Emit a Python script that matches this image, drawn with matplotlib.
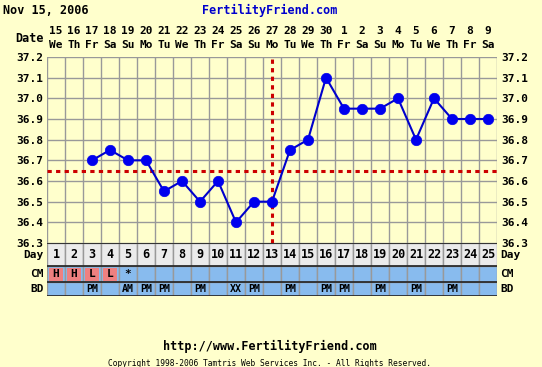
import matplotlib
matplotlib.use("Agg")
import matplotlib.pyplot as plt
import numpy as np

# ---- data ----
days = list(range(1, 26))
dates = ["15", "16", "17", "18", "19", "20", "21", "22", "23", "24", "25", "26", "27",
         "28", "29", "30", "1", "2", "3", "4", "5", "6", "7", "8", "9"]
weekdays = ["We", "Th", "Fr", "Sa", "Su", "Mo", "Tu", "We", "Th", "Fr", "Sa", "Su", "Mo",
            "Tu", "We", "Th", "Fr", "Sa", "Su", "Mo", "Tu", "We", "Th", "Fr", "Sa"]
temps = [np.nan, np.nan, 36.70, 36.75, 36.70, 36.70, 36.55, 36.60, 36.50, 36.60, 36.40,
         36.50, 36.50, 36.75, 36.80, 37.10, 36.95, 36.95, 36.95, 37.00, 36.80, 37.00,
         36.90, 36.90, 36.90]
cm = ["H", "H", "L", "L", "*"] + [""] * 20
bd = ["", "", "PM", "", "AM", "PM", "PM", "", "PM", "", "XX", "PM", "", "PM", "", "PM",
      "PM", "", "PM", "", "PM", "", "PM", "", ""]
coverline = 36.65
ovulation_day = 13
yticks = [36.3, 36.4, 36.5, 36.6, 36.7, 36.8, 36.9, 37.0, 37.1, 37.2]

# ---- style ----
W, H = 542, 367
BG = "#FFFFCC"
GRID = "#999999"
RED = "#CC0000"
BLUE = "#0000EE"
ROWBLUE = "#88BBEE"
DAYGRAY = "#EBEBEB"
SALMON = "#EE8080"
MONO = "DejaVu Sans Mono"

fig = plt.figure(figsize=(W / 100, H / 100), dpi=100, facecolor=BG)

def fx(px):
    return px / W

def fy(py):
    return 1 - py / H

L, R = 47, 497
T, B = 57, 243
ax = fig.add_axes([fx(L), fy(B), fx(R - L), (B - T) / H], facecolor=BG)
ax.set_xlim(0.5, 25.5)
ax.set_ylim(36.3, 37.2)
for d in np.arange(0.5, 26, 1):
    ax.axvline(d, color=GRID, lw=1, zorder=1)
for t in yticks:
    ax.axhline(t, color=GRID, lw=1, zorder=1)
ax.set_xticks([])
ax.set_yticks(yticks)
ax.set_yticklabels([f"{t:.1f}" for t in yticks], fontfamily=MONO, fontweight="bold", fontsize=8)
ax.tick_params(axis="y", length=0, pad=3, labelright=True, labelleft=True)
for s in ax.spines.values():
    s.set_visible(False)

# coverline and ovulation line
dash = (0, (1.4, 1.4))
ax.axhline(coverline, color=RED, lw=2.2, ls=dash, zorder=2)
ax.axvline(ovulation_day, ymin=0, ymax=1, color=RED, lw=2.2, ls=dash, zorder=2)

# temps
ax.plot(days, temps, color="#0000CC", lw=1.5, zorder=3)
ax.plot(days, temps, ls="none", marker="o", ms=7.5, mfc=BLUE, mec=BLUE, mew=0.5, zorder=4)

# header
fig.text(fx(3), fy(10), "Nov 15, 2006", fontfamily=MONO, fontweight="bold", fontsize=8.5,
         va="center", ha="left", color="black")
fig.text(fx(270), fy(10), "FertilityFriend.com", fontfamily=MONO, fontweight="bold",
         fontsize=8.5, va="center", ha="center", color="#0000CC")
fig.text(fx(44), fy(38), "Date", fontfamily=MONO, fontweight="bold", fontsize=8.5,
         va="center", ha="right")
for d, dt, wd in zip(days, dates, weekdays):
    xpx = L + (d - 0.5) * (R - L) / 25
    fig.text(fx(xpx), fy(31), dt, fontfamily=MONO, fontweight="bold", fontsize=8,
             va="center", ha="center")
    fig.text(fx(xpx), fy(45), wd, fontfamily=MONO, fontweight="bold", fontsize=8,
             va="center", ha="center")

# table rows
TB = 296
tax = fig.add_axes([fx(L), fy(TB), fx(R - L), (TB - B) / H])
tax.set_xlim(0.5, 25.5)
tax.set_ylim(TB - B, 0)
tax.axis("off")
rows = [(0, 23), (23, 39), (39, 53)]
# day row
tax.bar(days, rows[0][1] - rows[0][0], bottom=rows[0][0], width=1, color=DAYGRAY,
        edgecolor=GRID, lw=1)
tax.bar(days, rows[1][1] - rows[1][0], bottom=rows[1][0], width=1, color=ROWBLUE,
        edgecolor=GRID, lw=1)
hl_days = [d for d, c in zip(days, cm) if c in ("H", "L")]
tax.bar(hl_days, rows[1][1] - rows[1][0] - 3, bottom=rows[1][0] + 1.5, width=0.82,
        color=SALMON, lw=0)
tax.bar(days, rows[2][1] - rows[2][0], bottom=rows[2][0], width=1, color=ROWBLUE,
        edgecolor=GRID, lw=1)
for yb in [0, 23, 39, 53]:
    tax.axhline(yb, color="#222222", lw=1.2)
for d in days:
    tax.text(d, (rows[0][0] + rows[0][1]) / 2 + 0.5, str(d), fontfamily=MONO,
             fontweight="bold", fontsize=8.5, ha="center", va="center")
    if cm[d - 1]:
        tax.text(d, (rows[1][0] + rows[1][1]) / 2, cm[d - 1], fontfamily=MONO,
                 fontweight="bold", fontsize=8, ha="center", va="center")
    if bd[d - 1]:
        tax.text(d, (rows[2][0] + rows[2][1]) / 2, bd[d - 1], fontfamily=MONO,
                 fontweight="bold", fontsize=7.2, ha="center", va="center")

for lab, (a, b) in zip(["Day", "CM", "BD"], rows):
    yc = B + (a + b) / 2
    fig.text(fx(44), fy(yc), lab, fontfamily=MONO, fontweight="bold", fontsize=8,
             ha="right", va="center")
    fig.text(fx(500), fy(yc), lab, fontfamily=MONO, fontweight="bold", fontsize=8,
             ha="left", va="center")

# footer
fig.text(fx(270), fy(346), "http://www.FertilityFriend.com", fontfamily=MONO,
         fontweight="bold", fontsize=8.5, ha="center", va="center")
fig.text(fx(270), fy(363), "Copyright 1998-2006 Tamtris Web Services Inc. - All Rights Reserved.",
         fontfamily=MONO, fontsize=5.7, ha="center", va="center")

fig.savefig("out.png", dpi=100, facecolor=BG)
